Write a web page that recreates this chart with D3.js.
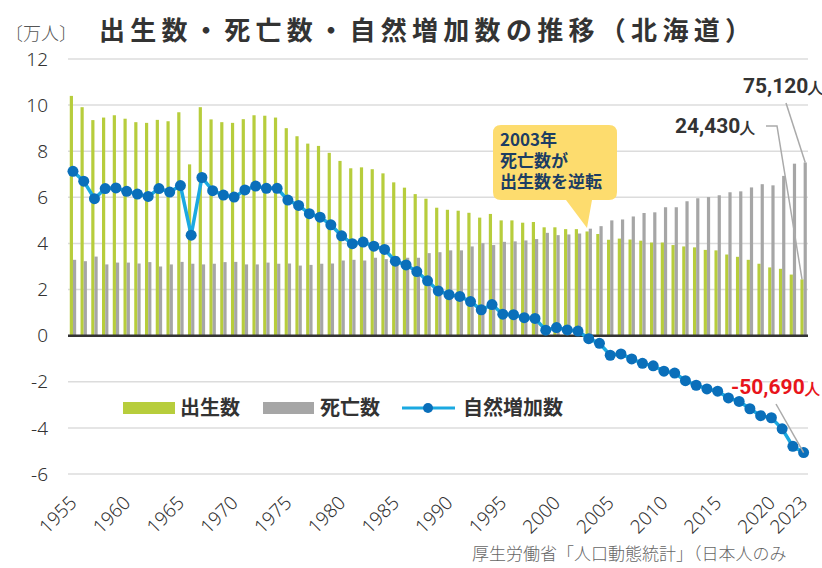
<!DOCTYPE html>
<meta charset="utf-8">
<style>
body{
  margin: 0px;
  background: white;
  font-family: "Noto Sans CJK JP", "Noto Sans", sans-serif;
}
svg{
  display: block;
}
.grid line{
  stroke: #dcdcdc;
  stroke-width: 1.5;
}
.ytick{
  font-family: "Noto Sans", sans-serif;
  font-weight: 300;
  font-size: 19px;
  fill: #333;
}
.xtick{
  font-family: "Noto Sans", sans-serif;
  font-weight: 300;
  font-size: 19px;
  fill: #333;
}
.legend text{
  font-weight: bold;
  font-size: 20px;
  fill: #333;
}
.note{
  font-family: Roboto, "Noto Sans", sans-serif;
  font-weight: bold;
  font-size: 21px;
}
</style>
<body>
<div id="chart"></div>

<script src="https://cdn.jsdelivr.net/npm/d3@7"></script>
<script>

// 北海道 出生数・死亡数・自然増加数（万人）
var years = d3.range(1955, 2024)

var births = [
  10.40, 9.91, 9.35, 9.46, 9.56, 9.41, 9.26, 9.23, 9.36, 9.30,
  9.69, 7.43, 9.91, 9.38, 9.26, 9.23, 9.39, 9.56, 9.54, 9.46,
  9.00, 8.65, 8.33, 8.23, 7.93, 7.58, 7.26, 7.30, 7.22, 7.04,
  6.65, 6.42, 6.14, 5.94, 5.55, 5.46, 5.42, 5.33, 5.12, 5.28,
  5.00, 5.00, 4.90, 4.93, 4.70, 4.70, 4.62, 4.62, 4.52, 4.41,
  4.16, 4.21, 4.17, 4.12, 4.04, 4.04, 3.93, 3.87, 3.83, 3.72,
  3.70, 3.52, 3.42, 3.29, 3.12, 2.96, 2.90, 2.65, 2.443
]

var deaths = [
  3.29, 3.23, 3.43, 3.09, 3.17, 3.17, 3.13, 3.19, 3.00, 3.09,
  3.20, 3.12, 3.09, 3.12, 3.19, 3.20, 3.09, 3.09, 3.17, 3.12,
  3.13, 3.04, 3.07, 3.12, 3.13, 3.26, 3.29, 3.26, 3.38, 3.32,
  3.45, 3.38, 3.38, 3.58, 3.62, 3.70, 3.70, 3.87, 4.01, 3.93,
  4.07, 4.09, 4.13, 4.19, 4.46, 4.36, 4.39, 4.43, 4.64, 4.75,
  5.00, 5.04, 5.17, 5.32, 5.35, 5.57, 5.57, 5.83, 5.96, 6.01,
  6.09, 6.22, 6.26, 6.43, 6.57, 6.52, 6.93, 7.46, 7.512
]

var natural = [
  7.13, 6.70, 5.94, 6.38, 6.41, 6.26, 6.14, 6.04, 6.38, 6.23,
  6.51, 4.36, 6.86, 6.29, 6.10, 6.01, 6.32, 6.49, 6.39, 6.39,
  5.88, 5.65, 5.29, 5.14, 4.81, 4.33, 3.99, 4.06, 3.88, 3.74,
  3.23, 3.07, 2.78, 2.38, 1.94, 1.78, 1.70, 1.48, 1.12, 1.35,
  0.93, 0.91, 0.78, 0.75, 0.24, 0.35, 0.25, 0.20, -0.13, -0.33,
  -0.85, -0.79, -1.01, -1.20, -1.31, -1.54, -1.62, -1.95, -2.15, -2.31,
  -2.41, -2.70, -2.85, -3.17, -3.47, -3.56, -4.04, -4.80, -5.069
]

var yTicks = [12, 10, 8, 6, 4, 2, 0, -2, -4, -6]
var xTicks = [1955, 1960, 1965, 1970, 1975, 1980, 1985, 1990, 1995,
              2000, 2005, 2010, 2015, 2020, 2023]

var title = '出生数・死亡数・自然増加数の推移（北海道）'
var unit = '〔万人〕'
var source = '厚生労働省「人口動態統計」（日本人のみ'
var callout = ['2003年', '死亡数が', '出生数を逆転']

var width = 822, height = 568
var left = 67.6, right = 809

var svg = d3.select('#chart').append('svg')
    .attr('width', width)
    .attr('height', height)

var x = d3.scaleBand().domain(years).range([left, right])
var y = d3.scaleLinear().domain([-6, 12]).range([474, 59])
var bw = 3.2

// grid
svg.append('g').attr('class', 'grid')
  .selectAll('line').data(yTicks.filter(function(d){ return d != 0 }))
  .join('line')
    .attr('x1', 68).attr('x2', 808)
    .attr('y1', d => y(d)).attr('y2', d => y(d))

svg.append('g')
  .selectAll('text').data(yTicks)
  .join('text')
    .attr('class', 'ytick')
    .attr('x', 48)
    .attr('y', d => y(d))
    .attr('dy', '0.35em')
    .attr('text-anchor', 'end')
    .text(d => d)

// bars
var cx = d => x(d) + x.bandwidth() / 2

svg.append('g')
  .selectAll('rect').data(years)
  .join('rect')
    .attr('x', d => cx(d) - bw)
    .attr('width', bw)
    .attr('y', (d, i) => y(births[i]))
    .attr('height', (d, i) => y(0) - y(births[i]))
    .attr('fill', '#b7cd3c')

svg.append('g')
  .selectAll('rect').data(years)
  .join('rect')
    .attr('x', d => cx(d))
    .attr('width', bw)
    .attr('y', (d, i) => y(deaths[i]))
    .attr('height', (d, i) => y(0) - y(deaths[i]))
    .attr('fill', '#a6a6a6')

// zero line
svg.append('line')
    .attr('x1', 68).attr('x2', 808)
    .attr('y1', y(0)).attr('y2', y(0))
    .attr('stroke', '#333').attr('stroke-width', 2.5)

// natural increase
var line = d3.line()
    .x((d, i) => cx(years[i]))
    .y(d => y(d))

svg.append('path')
    .datum(natural)
    .attr('d', line)
    .attr('fill', 'none')
    .attr('stroke', '#1ba9e1')
    .attr('stroke-width', 3.5)

svg.append('g')
  .selectAll('circle').data(natural)
  .join('circle')
    .attr('cx', (d, i) => cx(years[i]))
    .attr('cy', d => y(d))
    .attr('r', 5.5)
    .attr('fill', '#0a6fba')

// x labels
svg.append('g')
  .selectAll('text').data(xTicks)
  .join('text')
    .attr('class', 'xtick')
    .attr('text-anchor', 'end')
    .attr('transform', d => 'translate(' + (cx(d) + 5) + ',504) rotate(-45)')
    .text(d => d)

// title + unit
svg.append('text')
    .attr('x', 99).attr('y', 40)
    .attr('font-size', 26).attr('font-weight', 'bold')
    .attr('fill', '#333')
    .attr('textLength', 652).attr('lengthAdjust', 'spacing')
    .text(title)

svg.append('text')
    .attr('x', 5).attr('y', 40)
    .attr('font-size', 18).attr('font-weight', 300)
    .attr('fill', '#555')
    .text(unit)

// legend
var lg = svg.append('g').attr('class', 'legend')
lg.append('rect').attr('x', 123).attr('y', 402).attr('width', 52).attr('height', 12).attr('fill', '#b7cd3c')
lg.append('text').attr('x', 180).attr('y', 408).attr('dy', '0.35em').text('出生数')
lg.append('rect').attr('x', 263).attr('y', 402).attr('width', 51).attr('height', 12).attr('fill', '#a6a6a6')
lg.append('text').attr('x', 320).attr('y', 408).attr('dy', '0.35em').text('死亡数')
lg.append('line').attr('x1', 402).attr('x2', 455).attr('y1', 408).attr('y2', 408)
    .attr('stroke', '#1ba9e1').attr('stroke-width', 3)
lg.append('circle').attr('cx', 428).attr('cy', 408).attr('r', 5).attr('fill', '#0a6fba')
lg.append('text').attr('x', 463).attr('y', 408).attr('dy', '0.35em').text('自然増加数')

// callout
var co = svg.append('g')
co.append('path')
    .attr('d', 'M501,125 H609 Q617,125 617,133 V192 Q617,200 609,200 H592 L587,228 L566,200 H501 Q493,200 493,192 V133 Q493,125 501,125 Z')
    .attr('fill', '#fddc6e')
co.append('text')
    .attr('x', 500).attr('y', 146)
    .attr('font-size', 17).attr('font-weight', 'bold')
    .attr('fill', '#1c3d63')
  .selectAll('tspan').data(callout)
  .join('tspan')
    .attr('x', 500)
    .attr('dy', (d, i) => i ? 21 : 0)
    .text(d => d)

// end-value notes
var last = years.length - 1
var xl = cx(years[last])

function note(tx, ty, num, color){
  var t = svg.append('text').attr('class', 'note')
      .attr('x', tx).attr('y', ty).attr('fill', color)
  t.append('tspan').text(num)
  t.append('tspan').attr('font-size', 15).text('人')
}

svg.append('path')
    .attr('d', 'M786,103 L' + (xl + bw / 2) + ',' + y(deaths[last]))
    .attr('stroke', '#aaa').attr('stroke-width', 1.5).attr('fill', 'none')
svg.append('path')
    .attr('d', 'M766,126 H777 L' + (xl - bw / 2) + ',' + y(births[last]))
    .attr('stroke', '#aaa').attr('stroke-width', 1.5).attr('fill', 'none')
svg.append('path')
    .attr('d', 'M776,404 L' + xl + ',' + y(natural[last]))
    .attr('stroke', '#aaa').attr('stroke-width', 1.5).attr('fill', 'none')

note(743, 93, '75,120', '#333')
note(675, 133, '24,430', '#333')
note(731, 394, '-50,690', '#e8141b')

// source
svg.append('text')
    .attr('x', 472).attr('y', 560)
    .attr('font-size', 17).attr('font-weight', 300)
    .attr('fill', '#666')
    .text(source)

</script>
